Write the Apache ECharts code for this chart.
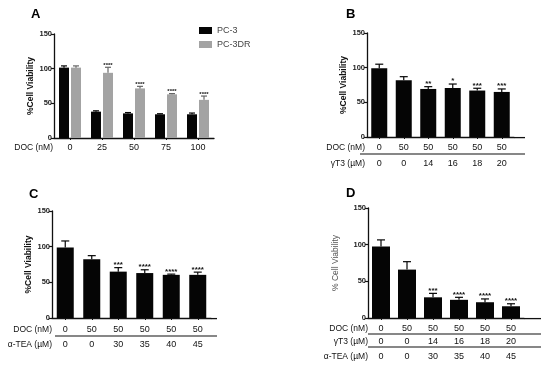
<!DOCTYPE html>
<html><head><meta charset="utf-8">
<script src="https://cdn.jsdelivr.net/npm/echarts@6/dist/echarts.min.js"></script>
<style>html,body{margin:0;padding:0;background:#fff}#c{width:550px;height:370px}</style>
</head><body><div id="c"></div>
<script>
// ---------- Data ----------
const yTicks = [0, 50, 100, 150];
// Panel A
const docA = ['0', '25', '50', '75', '100'];
const pc3 = [101.5, 38, 35.5, 34.2, 34.2];
const pc3Err = [2.5, 1.2, 1.2, 0.8, 1.8];
const pc3dr = [101.5, 94, 71.5, 63, 55];
const pc3drErr = [2.5, 8, 3, 1, 5.5];
const starsA = ['', '****', '****', '****', '****'];
// Panel B
const docB = ['0', '50', '50', '50', '50', '50'];
const gt3B = ['0', '0', '14', '16', '18', '20'];
const valB = [99, 82, 69.3, 70.7, 67, 65];
const errB = [6, 5, 3.3, 5.7, 3.3, 4.3];
const starsB = ['', '', '**', '*', '***', '***'];
// Panel C
const docC = ['0', '50', '50', '50', '50', '50'];
const ateaC = ['0', '0', '30', '35', '40', '45'];
const valC = [99, 82.4, 65, 63, 60.5, 60.5];
const errC = [9, 5, 5.6, 4.6, 1, 3.8];
const starsC = ['', '', '***', '****', '****', '****'];
// Panel D
const docD = ['0', '50', '50', '50', '50', '50'];
const gt3D = ['0', '0', '14', '16', '18', '20'];
const ateaD = ['0', '0', '30', '35', '40', '45'];
const valD = [97.5, 66, 28.2, 24.8, 21.5, 16];
const errD = [9, 10.8, 5.4, 3.4, 4.5, 3.4];
const starsD = ['', '', '***', '****', '****', '****'];

// ---------- Styling helpers ----------
const FF = '"Liberation Sans", Arial, sans-serif';
const BLACK = '#050505', GREY = '#a3a3a3';

const grids = [
  {left: 54, top: 34, width: 160, height: 104},
  {left: 367, top: 33, width: 147, height: 104},
  {left: 52, top: 211, width: 159, height: 107},
  {left: 368, top: 208, width: 156, height: 110}
];

function yAxis(g, name, gap, color, bold) {
  return {
    type: 'value', gridIndex: g, min: 0, max: 150, interval: 50,
    name: name, nameLocation: 'middle', nameGap: gap,
    nameTextStyle: {fontFamily: FF, fontSize: 8.5, fontWeight: bold ? 'bold' : 'normal', color: color},
    axisLine: {show: true, lineStyle: {color: '#111', width: 1.3}},
    axisTick: {show: true, length: 3, lineStyle: {color: '#111', width: 1.2}},
    axisLabel: {fontFamily: FF, fontSize: 7.5, fontWeight: 'bold', color: '#222', margin: 2,
      formatter: v => yTicks.indexOf(v) >= 0 ? String(v) : ''},
    splitLine: {show: false}
  };
}
function mainX(g, cats) {
  return {
    type: 'category', gridIndex: g, data: cats, position: 'bottom',
    axisLine: {show: true, lineStyle: {color: '#111', width: 1.3}},
    axisTick: {show: true, alignWithLabel: true, length: 2, lineStyle: {color: '#111'}},
    axisLabel: {show: false}
  };
}
function rowX(g, cats, name, offset, nameGap) {
  return {
    type: 'category', gridIndex: g, data: cats, position: 'bottom', offset: offset,
    name: name, nameLocation: 'start', nameGap: nameGap,
    nameTextStyle: {fontFamily: FF, fontSize: 8.5, color: '#111', align: 'right', verticalAlign: 'middle'},
    axisLine: {show: false}, axisTick: {show: false},
    axisLabel: {fontFamily: FF, fontSize: 9, color: '#111', margin: 0, verticalAlign: 'middle', interval: 0}
  };
}
function errSeries(name, xi, yi, vals, errs, stars, offsetPx, capHalf, color, starSize) {
  return {
    type: 'custom', name: name, xAxisIndex: xi, yAxisIndex: yi, z: 5,
    data: vals.map((v, i) => [i, v, errs[i]]),
    renderItem: function (params, api) {
      const i = api.value(0), v = api.value(1), e = api.value(2);
      const p0 = api.coord([i, v]);
      const p1 = api.coord([i, v + e]);
      const x = p0[0] + offsetPx;
      const ch = [
        {type: 'line', shape: {x1: x, y1: p0[1], x2: x, y2: p1[1]}, style: {stroke: color, lineWidth: 1.2}},
        {type: 'line', shape: {x1: x - capHalf, y1: p1[1], x2: x + capHalf, y2: p1[1]}, style: {stroke: color, lineWidth: 1.2}}
      ];
      const s = stars[params.dataIndex];
      if (s) ch.push({type: 'text', x: x, y: p1[1] + starSize * 0.15,
        style: {text: s, fontFamily: FF, fontSize: starSize, fontWeight: 'bold', fill: '#111', align: 'center', verticalAlign: 'bottom'}});
      return {type: 'group', children: ch};
    },
    tooltip: {show: false}
  };
}
function barSeries(name, xi, yi, vals, color, width, gap) {
  const s = {type: 'bar', name: name, xAxisIndex: xi, yAxisIndex: yi, data: vals, barWidth: width,
    itemStyle: {color: color}, z: 3};
  if (gap) s.barGap = gap;
  return s;
}

// ---------- Axes ----------
const xAxes = [
  mainX(0, docA),                                // 0
  rowX(0, docA, 'DOC (nM)', 10, 1),              // 1
  mainX(1, docB),                                // 2
  rowX(1, docB, 'DOC (nM)', 11, 2),              // 3
  rowX(1, gt3B, 'γT3 (µM)', 27, 2),              // 4
  mainX(2, docC),                                // 5
  rowX(2, docC, 'DOC (nM)', 12, 0),              // 6
  rowX(2, ateaC, 'α-TEA (µM)', 27, 0),           // 7
  mainX(3, docD),                                // 8
  rowX(3, docD, 'DOC (nM)', 11, 0),              // 9
  rowX(3, gt3D, 'γT3 (µM)', 24, 0),              // 10
  rowX(3, ateaD, 'α-TEA (µM)', 39, 0)            // 11
];
const yAxes = [
  yAxis(0, '%Cell Viability', 17, '#111', true),
  yAxis(1, '%Cell Viability', 17, '#111', true),
  yAxis(2, '%Cell Viability', 16, '#111', true),
  yAxis(3, '% Cell Viability', 28, '#555', false)
];

const series = [
  barSeries('PC-3', 0, 0, pc3, BLACK, 10, '20%'),
  barSeries('PC-3DR', 0, 0, pc3dr, GREY, 10, '20%'),
  errSeries('errA1', 0, 0, pc3, pc3Err, docA.map(() => ''), -6, 3, BLACK, 6),
  errSeries('errA2', 0, 0, pc3dr, pc3drErr, starsA, 6, 3, '#666', 6),
  barSeries('B', 2, 1, valB, BLACK, 16),
  errSeries('errB', 2, 1, valB, errB, starsB, 0, 4, BLACK, 8),
  barSeries('C', 5, 2, valC, BLACK, 17),
  errSeries('errC', 5, 2, valC, errC, starsC, 0, 4, BLACK, 8),
  barSeries('D', 8, 3, valD, BLACK, 18),
  errSeries('errD', 8, 3, valD, errD, starsD, 0, 4, BLACK, 8)
];

function label(t, x, y) {
  return {type: 'text', left: x, top: y, style: {text: t, fontFamily: FF, fontSize: 13, fontWeight: 'bold', fill: '#000'}};
}
function hline(x1, x2, y, w) {
  return {type: 'line', shape: {x1: x1, y1: y, x2: x2, y2: y}, style: {stroke: '#111', lineWidth: w || 1.3}, silent: true};
}

const chart = echarts.init(document.getElementById('c'), null, {renderer: 'canvas'});
chart.setOption({
  animation: false,
  backgroundColor: '#fff',
  grid: grids,
  xAxis: xAxes,
  yAxis: yAxes,
  legend: {
    data: ['PC-3', 'PC-3DR'], orient: 'vertical', left: 194, top: 21,
    itemWidth: 13, itemHeight: 7, itemGap: 5, icon: 'rect',
    textStyle: {fontFamily: FF, fontSize: 9, color: '#444'}
  },
  series: series,
  graphic: [
    label('A', 31, 8), label('B', 346, 8), label('C', 29, 188), label('D', 346, 187),
    hline(514, 525, 137.6), hline(360, 525, 154, 1.2),
    hline(211, 217, 318.6), hline(55, 217, 336, 1.2),
    hline(524, 541, 318.6), hline(368, 541, 334, 1.2), hline(368, 541, 347, 1.2)
  ]
});
</script></body></html>
